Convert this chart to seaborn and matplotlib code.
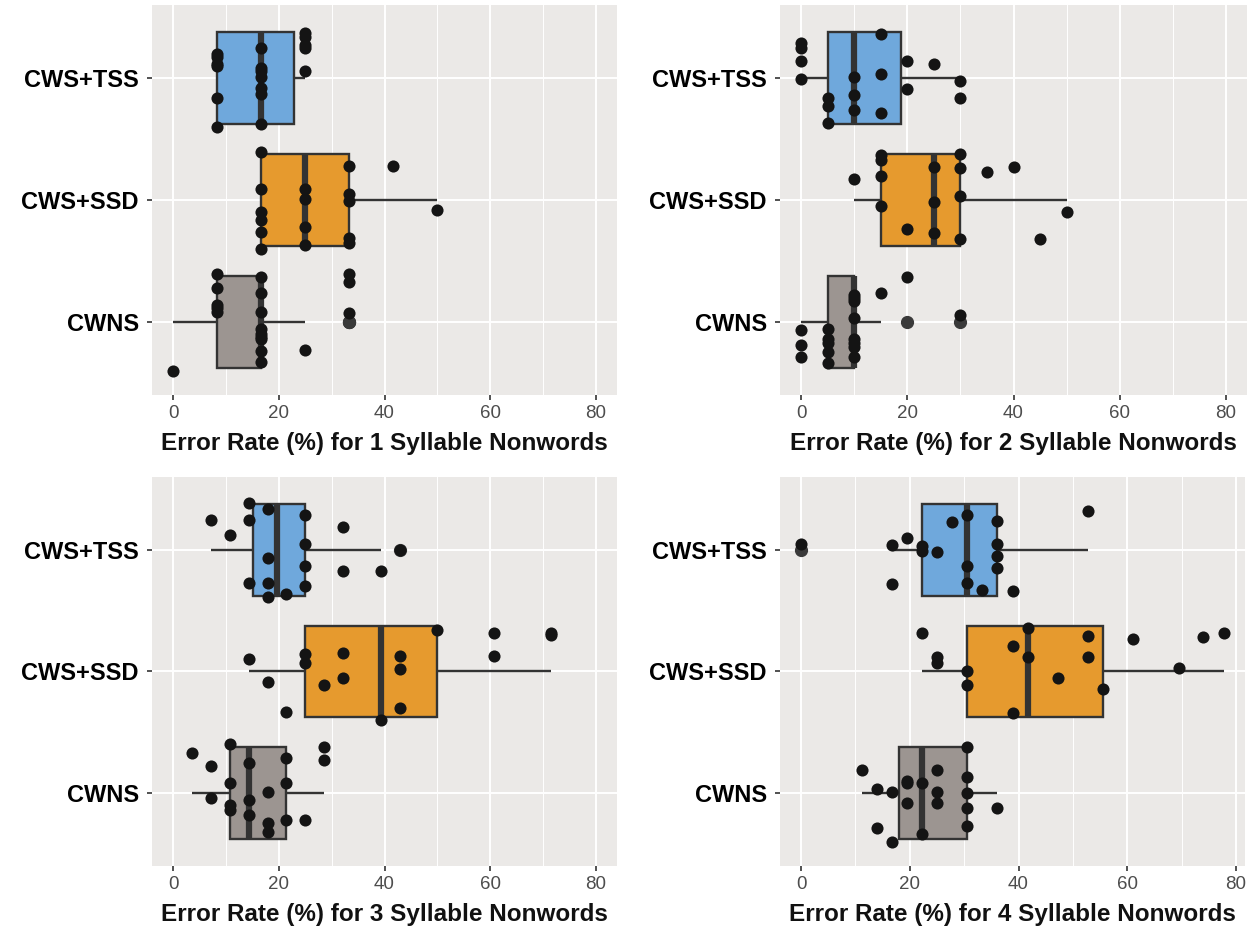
import numpy as np
import pandas as pd
import matplotlib.pyplot as plt
import seaborn as sns

plt.rcParams['font.family'] = ['Liberation Sans', 'DejaVu Sans']

groups = ['CWS+TSS', 'CWS+SSD', 'CWNS']
colours = {'CWS+TSS': '#6fa8dc', 'CWS+SSD': '#e69a2e', 'CWNS': '#9c9591'}

# error rates (%), plus the vertical jitter of each dot
# 1 syllable nonwords
tss1 = [8.33, 8.33, 8.33, 8.33, 8.33, 8.33, 16.67, 16.67, 16.67, 16.67, 16.67, 16.67, 16.67,
        25, 25, 25, 25, 25]
tss1_jit = [-0.20, -0.17, -0.12, -0.10, 0.16, 0.40, -0.25, -0.08, -0.06, -0.01, 0.08, 0.13, 0.38,
            -0.37, -0.34, -0.27, -0.25, -0.06]
ssd1 = [16.67, 16.67, 16.67, 16.67, 16.67, 16.67, 25, 25, 25, 25,
        33.33, 33.33, 33.33, 33.33, 33.33, 41.67, 50]
ssd1_jit = [-0.39, -0.09, 0.10, 0.16, 0.26, 0.40, -0.09, -0.01, 0.22, 0.37,
            -0.28, -0.05, 0.01, 0.31, 0.35, -0.28, 0.08]
cwns1 = [0, 8.33, 8.33, 8.33, 8.33, 8.33, 16.67, 16.67, 16.67, 16.67, 16.67, 16.67, 16.67, 16.67, 16.67,
         25, 33.33, 33.33, 33.33]
cwns1_jit = [0.40, -0.39, -0.28, -0.14, -0.11, -0.08, -0.37, -0.24, -0.08, 0.06, 0.10, 0.12, 0.14, 0.24, 0.33,
             0.23, -0.39, -0.33, -0.07]

# 2 syllable nonwords
tss2 = [0, 0, 0, 0, 5, 5, 5, 10, 10, 10, 15, 15, 15, 20, 20, 25, 30, 30]
tss2_jit = [-0.29, -0.25, -0.14, 0.01, 0.16, 0.23, 0.37, -0.01, 0.14, 0.26, -0.36, -0.03, 0.29,
            -0.14, 0.09, -0.12, 0.02, 0.16]
ssd2 = [10, 15, 15, 15, 15, 20, 25, 25, 25, 30, 30, 30, 30, 35, 40, 45, 50]
ssd2_jit = [-0.17, -0.37, -0.33, -0.20, 0.05, 0.24, -0.27, 0.02, 0.27, -0.38, -0.26, -0.03, 0.32,
            -0.23, -0.27, 0.32, 0.10]
cwns2 = [0, 0, 0, 5, 5, 5, 5, 5, 10, 10, 10, 10, 10, 10, 10, 10, 15, 20, 30]
cwns2_jit = [0.07, 0.19, 0.29, 0.06, 0.14, 0.17, 0.25, 0.34, -0.22, -0.20, -0.17, -0.03, 0.14, 0.17,
             0.21, 0.29, -0.24, -0.37, -0.06]

# 3 syllable nonwords
tss3 = [7.14, 10.71, 14.29, 14.29, 14.29, 17.86, 17.86, 17.86, 17.86, 21.43, 25, 25, 25, 25,
        32.14, 32.14, 39.29, 42.86]
tss3_jit = [-0.25, -0.12, -0.39, -0.25, 0.27, -0.34, 0.07, 0.27, 0.39, 0.36, -0.29, -0.05, 0.13, 0.30,
            -0.19, 0.17, 0.17, 0.0]
ssd3 = [14.29, 17.86, 21.43, 25, 25, 28.57, 32.14, 32.14, 39.29, 42.86, 42.86, 42.86, 50,
        60.71, 60.71, 71.43, 71.43]
ssd3_jit = [-0.10, 0.09, 0.33, -0.14, -0.07, 0.11, -0.15, 0.05, 0.40, -0.13, -0.02, 0.30, -0.34,
            -0.32, -0.13, -0.32, -0.30]
cwns3 = [3.57, 7.14, 7.14, 10.71, 10.71, 10.71, 10.71, 14.29, 14.29, 14.29, 17.86, 17.86, 17.86,
         21.43, 21.43, 21.43, 25, 28.57, 28.57]
cwns3_jit = [-0.33, -0.22, 0.04, -0.40, -0.08, 0.10, 0.14, -0.25, 0.06, 0.18, -0.01, 0.25, 0.32,
             -0.29, -0.08, 0.22, 0.22, -0.38, -0.27]

# 4 syllable nonwords
tss4 = [0, 16.67, 16.67, 19.44, 22.22, 22.22, 25, 27.78, 30.56, 30.56, 30.56, 33.33,
        36.11, 36.11, 36.11, 36.11, 38.89, 52.78]
tss4_jit = [-0.05, -0.04, 0.28, -0.10, -0.03, 0.01, 0.02, -0.23, -0.29, 0.13, 0.27, 0.33,
            -0.24, -0.05, 0.05, 0.15, 0.34, -0.32]
ssd4 = [22.22, 25, 25, 30.56, 30.56, 38.89, 38.89, 41.67, 41.67, 47.22, 52.78, 52.78, 55.56,
        61.11, 69.44, 73.89, 77.78]
ssd4_jit = [-0.32, -0.12, -0.07, 0.0, 0.11, -0.21, 0.34, -0.36, -0.12, 0.05, -0.29, -0.12, 0.14,
            -0.27, -0.03, -0.28, -0.32]
cwns4 = [11.11, 13.89, 13.89, 16.67, 16.67, 19.44, 19.44, 19.44, 22.22, 22.22, 25, 25, 25,
         30.56, 30.56, 30.56, 30.56, 30.56, 36.11]
cwns4_jit = [-0.19, -0.03, 0.29, -0.01, 0.40, -0.10, -0.08, 0.08, -0.08, 0.34, -0.19, -0.01, 0.08,
             -0.38, -0.13, 0.0, 0.12, 0.27, 0.12]

titles = ['Error Rate (%) for 1 Syllable Nonwords', 'Error Rate (%) for 2 Syllable Nonwords',
          'Error Rate (%) for 3 Syllable Nonwords', 'Error Rate (%) for 4 Syllable Nonwords']

panels = [
    (titles[0], [tss1, ssd1, cwns1], [tss1_jit, ssd1_jit, cwns1_jit], (-4, 84)),
    (titles[1], [tss2, ssd2, cwns2], [tss2_jit, ssd2_jit, cwns2_jit], (-4, 84)),
    (titles[2], [tss3, ssd3, cwns3], [tss3_jit, ssd3_jit, cwns3_jit], (-4, 84)),
    (titles[3], [tss4, ssd4, cwns4], [tss4_jit, ssd4_jit, cwns4_jit], (-3.89, 81.67)),
]
positions = [
    [0.1216, 0.5734, 0.3720, 0.4212],
    [0.6240, 0.5734, 0.3736, 0.4212],
    [0.1216, 0.0648, 0.3720, 0.4201],
    [0.6240, 0.0648, 0.3720, 0.4201],
]

fig = plt.figure(figsize=(12.5, 9.26), dpi=100)

for (title, vals, jits, xlim), pos in zip(panels, positions):
    ax = fig.add_axes(pos)
    ax.set_facecolor('#ebe9e7')
    ax.set_axisbelow(True)

    df = pd.DataFrame({
        'group': np.repeat(groups, [len(v) for v in vals]),
        'rate': np.concatenate(vals),
        'jit': np.concatenate(jits),
    })
    df['ypos'] = df['group'].map({g: i for i, g in enumerate(groups)}) + df['jit']

    sns.boxplot(data=df, x='rate', y='group', hue='group', order=groups, hue_order=groups,
                palette=colours, saturation=1, width=0.75, linecolor='#333333', linewidth=1.7,
                showcaps=False, legend=False, ax=ax,
                medianprops=dict(linewidth=4.5, color='#333333'),
                flierprops=dict(marker='o', markersize=8.5, markerfacecolor='#3a3a3a',
                                markeredgecolor='#3a3a3a'))
    ax.scatter(df['rate'], df['ypos'], s=76, color='#141414', linewidths=0, zorder=5)

    ax.set_xlim(*xlim)
    ax.set_ylim(2.6, -0.6)
    ax.set_xticks([0, 20, 40, 60, 80])
    ax.set_xticks([10, 30, 50, 70], minor=True)
    ax.grid(which='major', color='white', linewidth=1.4)
    ax.grid(which='minor', axis='x', color='white', linewidth=0.7)
    for sp in ax.spines.values():
        sp.set_visible(False)

    ax.tick_params(axis='x', which='major', labelsize=13.5, labelcolor='#4d4d4d',
                   length=3.5, width=1.2, color='#333333', pad=4)
    ax.tick_params(axis='x', which='minor', length=0)
    ax.tick_params(axis='y', labelsize=17, labelcolor='black', length=3.5, width=1.2,
                   color='#333333', pad=6)
    for lbl in ax.get_yticklabels():
        lbl.set_fontweight('bold')

    ax.set_ylabel('')
    ax.set_xlabel(title, fontsize=17.5, fontweight='bold', color='#111111', labelpad=7)

fig.savefig('out.png', dpi=100)
